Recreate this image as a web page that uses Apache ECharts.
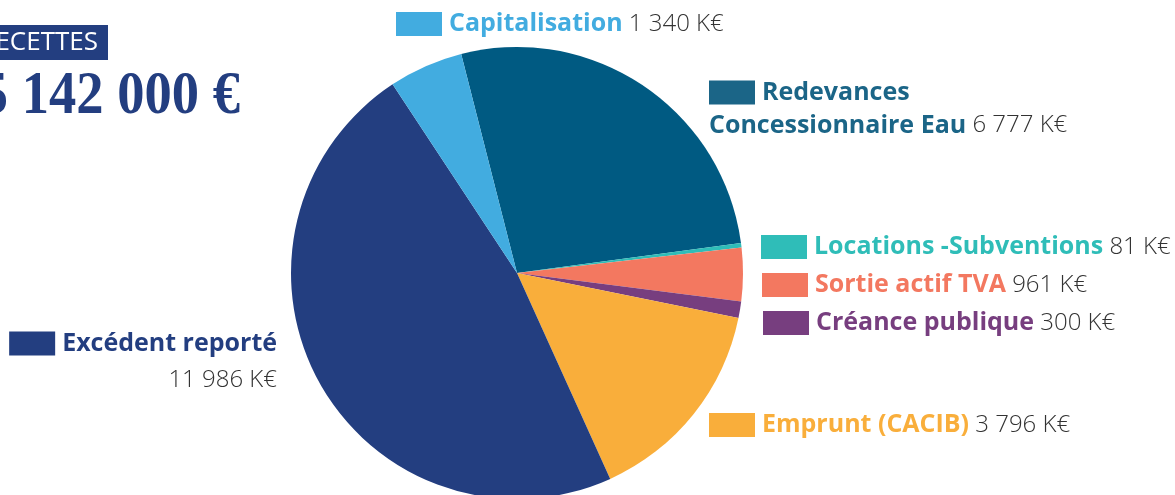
<!DOCTYPE html>
<html>
<head>
<meta charset="utf-8">
<script src="https://cdn.jsdelivr.net/npm/echarts@6/dist/echarts.min.js"></script>
<style>
html, body { margin: 0; padding: 0; background: #fff; }
#main { width: 1175px; height: 495px; }
</style>
</head>
<body>
<div id="main"></div>
<script>
// données (K€), dans l'ordre horaire depuis le haut
const categories = [
	"Redevances\nConcessionnaire Eau",
	"Locations -Subventions",
	"Sortie actif TVA",
	"Créance publique",
	"Emprunt (CACIB)",
	"Excédent reporté",
	"Capitalisation"
]
const values = [6777, 81, 961, 300, 3796, 11986, 1340]
const totalLabel = "25 142 000 €"
const titleLabel = "RECETTES"

const colors = ["#005a82", "#2fbdb8", "#f37860", "#773e7f", "#f9ae3b", "#233e80", "#42ace0"]
const boxColors = ["#1b6587", "#2fbdb8", "#f37860", "#773e7f", "#f9ae3b", "#233e80", "#42ace0"]

// position des étiquettes (x, y centre du bloc)
const labelPos = [
	{ x: 709, y: 109, align: "left", lh: 33 },
	{ x: 761, y: 247, align: "left", lh: 30 },
	{ x: 762, y: 285, align: "left", lh: 30 },
	{ x: 763, y: 323, align: "left", lh: 30 },
	{ x: 709, y: 425, align: "left", lh: 30 },
	{ x: 277, y: 362, align: "right", lh: 37, newLine: true },
	{ x: 396, y: 24, align: "left", lh: 30 }
]

function fmt(v) {
	return String(v).replace(/\B(?=(\d{3})+(?!\d))/g, " ") + " K€"
}

const rich = {
	val: { fontFamily: "Open Sans", fontWeight: 300, fontSize: 24, color: "#333333" }
}
categories.forEach((c, i) => {
	rich["box" + i] = { width: 46, height: 24, backgroundColor: boxColors[i] }
	rich["name" + i] = { fontFamily: "Open Sans", fontWeight: "bold", fontSize: 25, color: boxColors[i], padding: [0, 0, 0, 7] }
	rich["nameb" + i] = { fontFamily: "Open Sans", fontWeight: "bold", fontSize: 25, color: boxColors[i] }
})

const pieData = categories.map((c, i) => {
	const lines = c.split("\n")
	let text = "{box" + i + "|}{name" + i + "|" + lines[0] + "}"
	for (let k = 1; k < lines.length; k++) {
		text += "\n{nameb" + i + "|" + lines[k] + "}"
	}
	if (labelPos[i].newLine) text += "\n{val|" + fmt(values[i]) + "}"
	else text += "{val| " + fmt(values[i]) + "}"
	return {
		name: c,
		value: values[i],
		itemStyle: { color: colors[i] },
		label: { formatter: text, lineHeight: labelPos[i].lh }
	}
})

const chart = echarts.init(document.getElementById("main"))
chart.setOption({
	animation: false,
	graphic: [
		{ type: "rect", left: 0, top: 25, shape: { width: 108, height: 35 }, style: { fill: "#233e80" } },
		{
			type: "text", x: 98, y: 43,
			style: { text: titleLabel, fill: "#ffffff", font: "26px 'Open Sans'", textAlign: "right", textVerticalAlign: "middle" }
		},
		{
			type: "text", x: 240, y: 97, scaleX: 0.88,
			style: { text: totalLabel, fill: "#233e80", font: "bold 62px 'Liberation Serif'", textAlign: "right", textVerticalAlign: "middle" }
		}
	],
	series: [
		{
			type: "pie",
			center: [517, 273],
			radius: 226,
			startAngle: 104.3,
			clockwise: true,
			avoidLabelOverlap: false,
			silent: true,
			label: { show: true, position: "outside", rich: rich },
			labelLine: { show: false },
			labelLayout: function (params) {
				const p = labelPos[params.dataIndex]
				return { x: p.x, y: p.y, align: p.align, verticalAlign: "middle" }
			},
			data: pieData
		}
	]
})
</script>
</body>
</html>
